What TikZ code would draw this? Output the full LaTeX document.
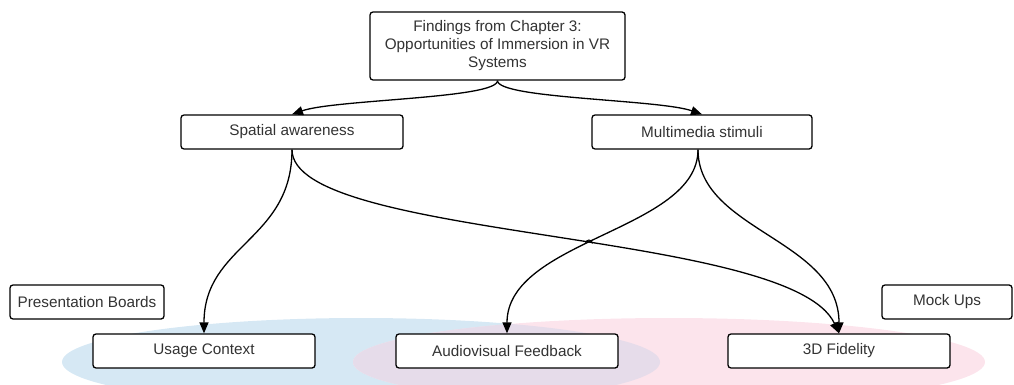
\documentclass[tikz,border=0pt]{standalone}
\usepackage{fontspec}
\setmainfont{Liberation Sans}
\usetikzlibrary{arrows.meta,intersections}
\definecolor{zoneblue}{HTML}{D6E8F4}
\definecolor{zonepink}{HTML}{FCE4EC}
\definecolor{zonemix}{HTML}{E6DCEA}
\definecolor{ink}{HTML}{333333}
\tikzset{
  card/.style={draw=black, line width=1.3pt, rounded corners=3pt, fill=white,
    inner sep=0pt, minimum height=34pt, text=ink, align=center,
    font=\fontsize{15.3}{18}\selectfont},
  link/.style={draw=black, line width=1.3pt, -{Triangle[length=11pt,width=9pt]}},
}
\begin{document}
\begin{tikzpicture}[x=1pt,y=-1pt]
\useasboundingbox (0,0) rectangle (1014,385);

% coloured zones behind the lower row
\fill[zoneblue] (361,362) ellipse [x radius=299, y radius=44];
\fill[zonepink] (669,362) ellipse [x radius=316, y radius=44];
\begin{scope}
  \clip (361,362) ellipse [x radius=299, y radius=44];
  \fill[zonemix] (669,362) ellipse [x radius=316, y radius=44];
\end{scope}

% boxes
\node[card, minimum width=255pt, minimum height=68pt] (top) at (497.5,46)
  {Findings from Chapter 3:\\Opportunities of Immersion in VR\\Systems};
\node[card, minimum width=222pt] (spatial) at (292,132) {Spatial awareness};
\node[card, minimum width=220pt] (multi) at (702,132) {Multimedia stimuli};
\node[card, minimum width=154pt] (boards) at (87,302) {Presentation Boards};
\node[card, minimum width=130pt] (mock) at (947,302) {Mock Ups};
\node[card, minimum width=222pt] (usage) at (204,351) {Usage Context};
\node[card, minimum width=222pt] (audio) at (507,351) {Audiovisual Feedback};
\node[card, minimum width=222pt] (fidelity) at (839,351) {3D Fidelity};

% connectors
\draw[link] (top.south) .. controls +(0,18) and +(43,-15) .. (spatial.north);
\draw[link] (top.south) .. controls +(0,18) and +(-43,-15) .. (multi.north);
\draw[link] (spatial.south) .. controls +(0,91) and +(0,-89) .. (usage.north);
\draw[link, name path=sf] (spatial.south) .. controls +(0,91) and +(-48,-104) .. (fidelity.north);
\draw[link, name path=ma] ([xshift=-4pt]multi.south) .. controls +(0,81) and +(0,-94) .. (audio.north);
\draw[link] ([xshift=-4pt]multi.south) .. controls +(0,81) and +(0,-94) .. (fidelity.north);

% small hop where two connectors cross
\path[name intersections={of=sf and ma, by=hop}];
\draw[line width=1.1pt] ([xshift=-3.5pt]hop) arc[start angle=180, end angle=0, radius=3.5pt];
\end{tikzpicture}
\end{document}
